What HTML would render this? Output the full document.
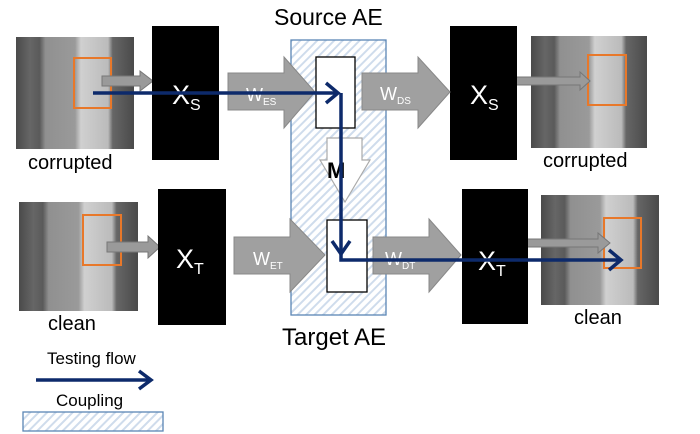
<!DOCTYPE html>
<html><head><meta charset="utf-8"><style>body{margin:0;background:#fff}svg{display:block}</style></head><body>
<svg width="700" height="434" viewBox="0 0 700 434" xmlns="http://www.w3.org/2000/svg" font-family="Liberation Sans Narrow, Liberation Sans, sans-serif">
<defs>
<pattern id="h" width="6" height="6" patternUnits="userSpaceOnUse" patternTransform="rotate(45)"><rect width="6" height="6" fill="#fff"/><rect width="2" height="6" fill="#cfdcec"/></pattern>
<linearGradient id="bk" x1="0" x2="1"><stop offset="0" stop-color="#4a4a4a"/><stop offset=".12" stop-color="#666"/><stop offset=".2" stop-color="#5a5a5a"/><stop offset=".25" stop-color="#909090"/><stop offset=".5" stop-color="#9a9a9a"/><stop offset=".55" stop-color="#d0d0d0"/><stop offset=".78" stop-color="#bbb"/><stop offset=".82" stop-color="#666"/><stop offset="1" stop-color="#4a4a4a"/></linearGradient>
</defs>
<rect x="291" y="40" width="95" height="275" fill="url(#h)" stroke="#5a86b5" stroke-width="1.3"/>
<text x="274" y="25" font-size="23">Source AE</text>
<text x="282" y="345" font-size="24">Target AE</text>
<rect x="16" y="37" width="118" height="112" fill="url(#bk)"/>
<rect x="74" y="58" width="37" height="50" fill="none" stroke="#e8782a" stroke-width="2"/>
<rect x="19" y="202" width="119" height="109" fill="url(#bk)"/>
<rect x="83" y="215" width="38" height="50" fill="none" stroke="#e8782a" stroke-width="2"/>
<rect x="531" y="36" width="116" height="112" fill="url(#bk)"/>
<rect x="588" y="55" width="38" height="50" fill="none" stroke="#e8782a" stroke-width="2"/>
<rect x="541" y="195" width="118" height="110" fill="url(#bk)"/>
<rect x="604" y="218" width="37" height="50" fill="none" stroke="#e8782a" stroke-width="2"/>
<g font-size="20" fill="#000"><text x="28" y="169">corrupted</text><text x="543" y="167">corrupted</text><text x="48" y="330">clean</text><text x="574" y="324">clean</text></g>
<g fill="#9a9a9a" stroke="#777" stroke-width="1">
<polygon points="102,76 140,76 140,71 153,81 140,91 140,86 102,86"/>
<polygon points="107,242 148,242 148,236 160,247 148,258 148,252 107,252"/>
<polygon points="516,77 580,77 580,72 590,81 580,90 580,85 516,85"/>
<polygon points="527,239 598,239 598,233 610,243 598,253 598,247 527,247"/>
</g>
<rect x="152" y="26" width="67" height="134" fill="#000"/>
<rect x="450" y="26" width="67" height="134" fill="#000"/>
<rect x="158" y="189" width="68" height="136" fill="#000"/>
<rect x="462" y="189" width="66" height="135" fill="#000"/>
<g fill="#a0a0a0" stroke="#888" stroke-width="1">
<polygon points="228,73 284,73 284,57 315,92 284,128 284,110 228,110"/>
<polygon points="362,73 418,73 418,57 450,92 418,128 418,110 362,110"/>
<polygon points="234,237 290,237 290,219 325,255 290,292 290,274 234,274"/>
<polygon points="373,237 429,237 429,219 461,255 429,292 429,274 373,274"/>
</g>
<rect x="316" y="57" width="39" height="71" fill="#fff" stroke="#000" stroke-width="1.3"/>
<rect x="327" y="220" width="40" height="72" fill="#fff" stroke="#000" stroke-width="1.3"/>
<polygon points="327,138 362,138 362,160 370,160 345,202 320,160 327,160" fill="#fff" stroke="#aaa" stroke-width="1.2"/>
<text x="327" y="178" font-size="22" font-weight="bold">M</text>
<g fill="#fff">
<text x="172" y="104" font-size="27">X<tspan font-size="16" dy="6">S</tspan></text>
<text x="470" y="104" font-size="27">X<tspan font-size="16" dy="6">S</tspan></text>
<text x="176" y="268" font-size="27">X<tspan font-size="16" dy="6">T</tspan></text>
<text x="478" y="270" font-size="27">X<tspan font-size="16" dy="6">T</tspan></text>
<text x="246" y="101" font-size="18">W<tspan font-size="10" dy="4">ES</tspan></text>
<text x="380" y="100" font-size="18">W<tspan font-size="10" dy="4">DS</tspan></text>
<text x="253" y="265" font-size="18">W<tspan font-size="10" dy="4">ET</tspan></text>
<text x="385" y="265" font-size="18">W<tspan font-size="10" dy="4">DT</tspan></text>
</g>
<g stroke="#0d2a6b" stroke-width="3.5" fill="none" stroke-linejoin="miter">
<polyline points="93,93 338,93"/>
<polyline points="326,83 338,93 326,103"/>
<polyline points="341,93 341,260 621,260"/>
<polyline points="332,241 341,254 350,241"/>
<polyline points="609,250 621,260 609,270"/>
<polyline points="36,380 150,380"/>
<polyline points="139,371 151,380 139,389"/>
</g>
<text x="47" y="364" font-size="17">Testing flow</text>
<text x="56" y="406" font-size="17">Coupling</text>
<rect x="23" y="412" width="140" height="19" fill="url(#h)" stroke="#5a86b5" stroke-width="1.3"/>
</svg>
</body></html>
